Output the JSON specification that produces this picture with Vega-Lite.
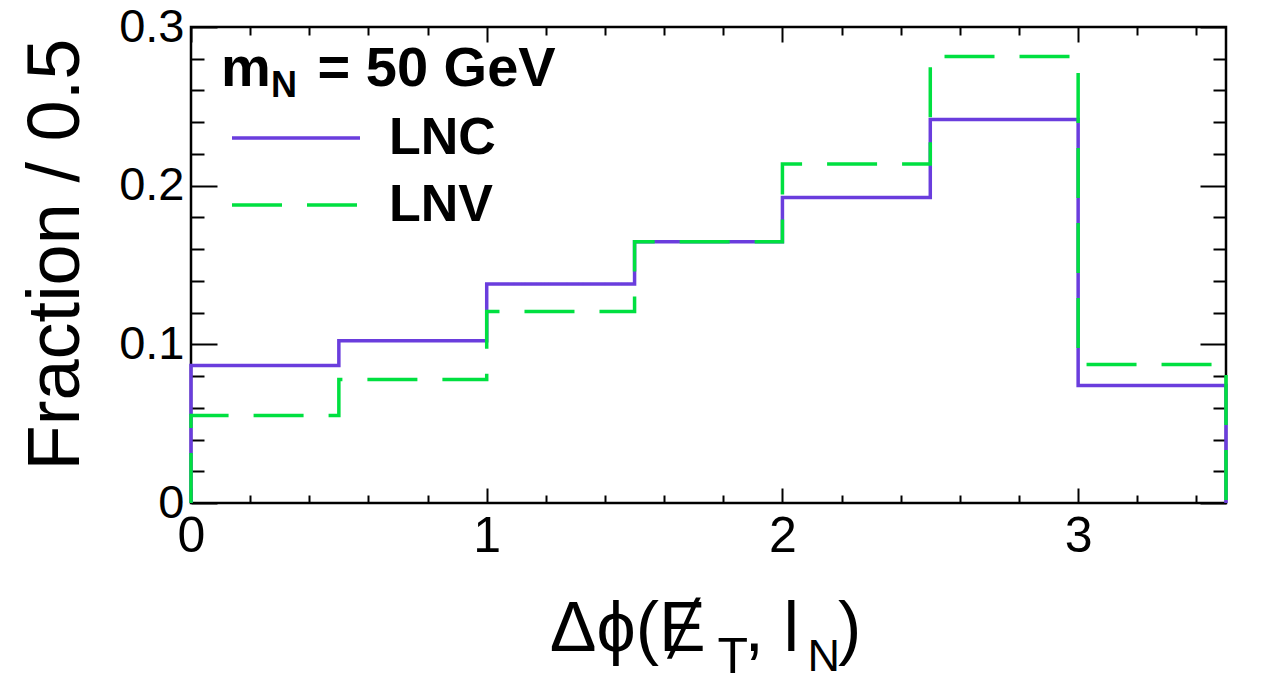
{
  "$schema": "https://vega.github.io/schema/vega-lite/v6.json",
  "width": 1035,
  "height": 476,
  "autosize": {"type": "none"},
  "padding": {"left": 191, "top": 27, "right": 52, "bottom": 179},
  "background": "white",
  "config": {
    "font": "Liberation Sans",
    "view": {"stroke": "black", "strokeWidth": 2.5},
    "axis": {
      "domain": false,
      "grid": false,
      "tickColor": "black",
      "tickWidth": 2,
      "labelColor": "black",
      "titleColor": "black",
      "titleFontWeight": "normal",
      "labelOverlap": false,
      "labelBound": false,
      "labelFlush": false
    }
  },
  "title": {
    "text": "m\u00a0\u00a0 = 50 GeV",
    "subtitle": "\u200b\u00a0\u00a0\u00a0\u00a0\u00a0N",
    "orient": "top",
    "anchor": "start",
    "frame": "group",
    "offset": 0,
    "dx": 30,
    "dy": 102,
    "fontSize": 56,
    "fontWeight": "bold",
    "color": "black",
    "subtitleFontSize": 36,
    "subtitleFontWeight": "bold",
    "subtitleColor": "black",
    "subtitlePadding": -29
  },
  "data": {
    "values": [
      {"series": "LNC", "x": 0, "frac": 0, "i": 0},
      {"series": "LNC", "x": 0, "frac": 0.0867, "i": 1},
      {"series": "LNC", "x": 0.5, "frac": 0.1023, "i": 2},
      {"series": "LNC", "x": 1.0, "frac": 0.1380, "i": 3},
      {"series": "LNC", "x": 1.5, "frac": 0.1647, "i": 4},
      {"series": "LNC", "x": 2.0, "frac": 0.1925, "i": 5},
      {"series": "LNC", "x": 2.5, "frac": 0.2417, "i": 6},
      {"series": "LNC", "x": 3.0, "frac": 0.0741, "i": 7},
      {"series": "LNC", "x": 3.5, "frac": 0.0741, "i": 8},
      {"series": "LNC", "x": 3.5, "frac": 0, "i": 9},
      {"series": "LNV", "x": 0, "frac": 0, "i": 0},
      {"series": "LNV", "x": 0, "frac": 0.0551, "i": 1},
      {"series": "LNV", "x": 0.5, "frac": 0.0779, "i": 2},
      {"series": "LNV", "x": 1.0, "frac": 0.1207, "i": 3},
      {"series": "LNV", "x": 1.5, "frac": 0.1647, "i": 4},
      {"series": "LNV", "x": 2.0, "frac": 0.2136, "i": 5},
      {"series": "LNV", "x": 2.5, "frac": 0.2814, "i": 6},
      {"series": "LNV", "x": 3.0, "frac": 0.0873, "i": 7},
      {"series": "LNV", "x": 3.5, "frac": 0.0873, "i": 8},
      {"series": "LNV", "x": 3.5, "frac": 0, "i": 9}
    ]
  },
  "layer": [
    {
      "transform": [{"filter": "datum.series === 'LNC'"}],
      "mark": {"type": "line", "interpolate": "step-after", "strokeWidth": 3.5, "strokeCap": "butt"},
      "encoding": {
        "x": {
          "field": "x", "type": "quantitative",
          "scale": {"domain": [0, 3.5], "nice": false, "zero": false},
          "axis": {
            "orient": "bottom",
            "values": [0, 0.2, 0.4, 0.6, 0.8, 1, 1.2, 1.4, 1.6, 1.8, 2, 2.2, 2.4, 2.6, 2.8, 3, 3.2, 3.4],
            "tickSize": {"condition": {"test": "abs(datum.value - round(datum.value)) < 0.001", "value": -15}, "value": -8},
            "labelExpr": "abs(datum.value - round(datum.value)) < 0.001 ? format(datum.value, 'd') : ''",
            "labelFontSize": 50,
            "labelBaseline": "top",
            "labelPadding": 23,
            "title": "Δϕ(Ɇ\u00a0\u00a0, l\u00a0\u00a0)",
            "titleFontSize": 70,
            "titleX": 514,
            "titleY": 147,
            "titleAlign": "center",
            "titleBaseline": "alphabetic"
          }
        },
        "y": {
          "field": "frac", "type": "quantitative",
          "scale": {"domain": [0, 0.3], "nice": false},
          "axis": {
            "orient": "left",
            "values": [0, 0.02, 0.04, 0.06, 0.08, 0.1, 0.12, 0.14, 0.16, 0.18, 0.2, 0.22, 0.24, 0.26, 0.28, 0.3],
            "tickSize": {"condition": {"test": "abs(datum.value * 10 - round(datum.value * 10)) < 0.001", "value": -26}, "value": -13},
            "labelExpr": "abs(datum.value * 10 - round(datum.value * 10)) < 0.001 ? format(datum.value, '.1~f') : ''",
            "labelFontSize": 47,
            "labelPadding": 33,
            "title": "Fraction / 0.5",
            "titleFontSize": 74,
            "titleAngle": -90,
            "titleX": -113,
            "titleY": 227,
            "titleAlign": "center",
            "titleBaseline": "alphabetic"
          }
        },
        "order": {"field": "i", "type": "quantitative"},
        "color": {
          "field": "series", "type": "nominal",
          "scale": {"domain": ["LNC", "LNV"], "range": ["#6a3ddd", "#00e040"]},
          "legend": {
            "orient": "none", "legendX": 79, "legendY": 85, "title": null, "padding": 0,
            "symbolType": "M-4,0H4", "symbolSize": 1024, "symbolStrokeWidth": 3.5,
            "labelFontSize": 52, "labelFontWeight": "bold", "labelColor": "black",
            "labelOffset": 67, "rowPadding": 15
          }
        },
        "strokeDash": {
          "field": "series", "type": "nominal",
          "scale": {"domain": ["LNC", "LNV"], "range": [[1, 0], [50, 25]]},
          "legend": {
            "orient": "none", "legendX": 79, "legendY": 85, "title": null, "padding": 0,
            "symbolType": "M-4,0H4", "symbolSize": 1024, "symbolStrokeWidth": 3.5,
            "labelFontSize": 52, "labelFontWeight": "bold", "labelColor": "black",
            "labelOffset": 67, "rowPadding": 15
          }
        }
      }
    },
    {
      "transform": [{"filter": "datum.series === 'LNV'"}],
      "mark": {"type": "line", "interpolate": "step-after", "strokeWidth": 3.5, "strokeCap": "butt"},
      "encoding": {
        "x": {
          "field": "x", "type": "quantitative",
          "axis": {
            "orient": "top",
            "values": [0, 0.2, 0.4, 0.6, 0.8, 1, 1.2, 1.4, 1.6, 1.8, 2, 2.2, 2.4, 2.6, 2.8, 3, 3.2, 3.4],
            "tickSize": {"condition": {"test": "abs(datum.value - round(datum.value)) < 0.001", "value": -15}, "value": -8},
            "labels": false,
            "title": "T",
            "titleFontSize": 50,
            "titleAngle": 0,
            "titleX": 526,
            "titleY": 645,
            "titleAlign": "left",
            "titleBaseline": "alphabetic"
          }
        },
        "y": {
          "field": "frac", "type": "quantitative",
          "axis": {
            "orient": "right",
            "values": [0, 0.02, 0.04, 0.06, 0.08, 0.1, 0.12, 0.14, 0.16, 0.18, 0.2, 0.22, 0.24, 0.26, 0.28, 0.3],
            "tickSize": {"condition": {"test": "abs(datum.value * 10 - round(datum.value * 10)) < 0.001", "value": -26}, "value": -13},
            "labels": false,
            "title": "N",
            "titleFontSize": 45,
            "titleAngle": 0,
            "titleX": -419,
            "titleY": 643,
            "titleAlign": "left",
            "titleBaseline": "alphabetic"
          }
        },
        "order": {"field": "i", "type": "quantitative"},
        "color": {"field": "series", "type": "nominal"},
        "strokeDash": {"field": "series", "type": "nominal"}
      }
    }
  ],
  "resolve": {"axis": {"x": "independent", "y": "independent"}}
}
